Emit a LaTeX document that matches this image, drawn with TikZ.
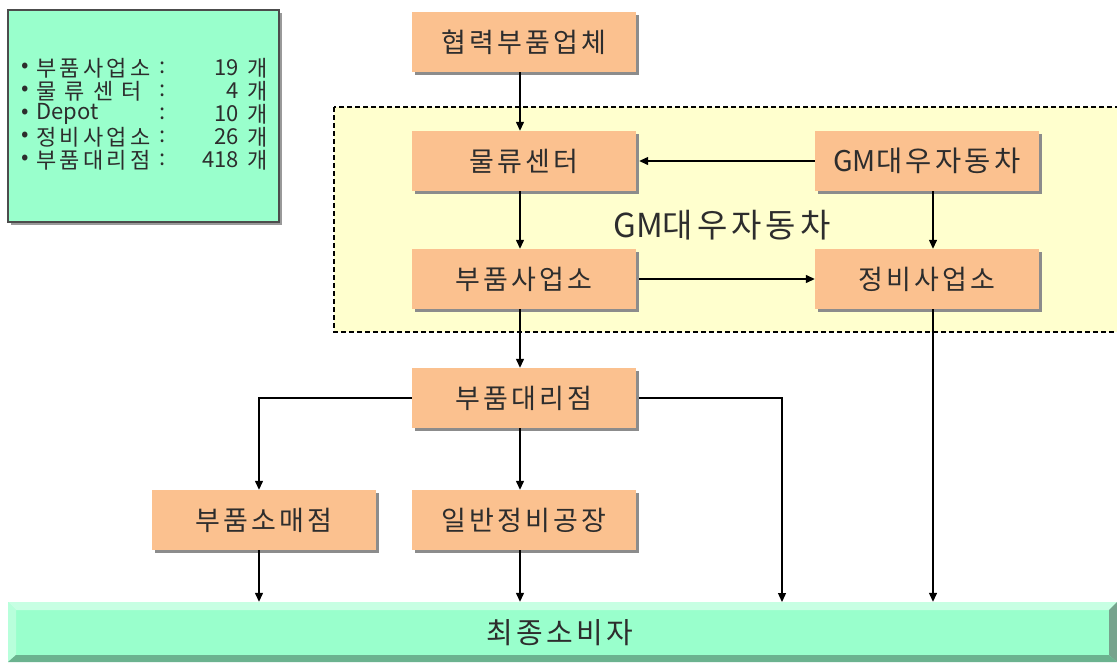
\documentclass[tikz,border=0pt]{standalone}
\usepackage{fontspec}
\setmainfont{Noto Sans CJK KR}
\newfontfamily\krbox[LetterSpace=12]{Noto Sans CJK KR}
\newfontfamily\krleg[LetterSpace=15]{Noto Sans CJK KR}
\newfontfamily\krplain{Noto Sans CJK KR}
\usetikzlibrary{arrows.meta,shadows}
\definecolor{boxor}{RGB}{251,193,143}
\definecolor{regyel}{RGB}{255,255,206}
\definecolor{mint}{RGB}{153,255,204}
\definecolor{txt}{RGB}{45,45,45}
\tikzset{
  pbox/.style={fill=boxor, minimum width=224pt, minimum height=60pt, inner sep=0pt,
    text=txt, font=\krbox\fontsize{27pt}{30pt}\selectfont,
    drop shadow={shadow xshift=3pt, shadow yshift=-3pt, fill=black!45, opacity=1}},
  conn/.style={line width=1.3pt, -{Triangle[length=9pt,width=8pt]}},
  legtxt/.style={text=txt, font=\krleg\fontsize{22pt}{24pt}\selectfont, inner sep=0pt},
  legnum/.style={text=txt, font=\krplain\fontsize{22pt}{24pt}\selectfont, inner sep=0pt}
}
\begin{document}
\begin{tikzpicture}[x=1pt,y=-1pt]
\clip (0,0) rectangle (1117,662);
\fill[white] (0,0) rectangle (1117,662);

% legend box
\fill[black!40] (11,13) rectangle (282,225);
\fill[mint] (8,10) rectangle (279,222);
\draw[black!70, line width=1.5pt] (8,10) rectangle (279,222);
\foreach \y/\t/\n [count=\i] in {68/부품사업소/19,91/물 류 센 터/4,137/정비사업소/26,160/부품대리점/418}{
  \node[legnum] (b\i) at (25,\y) {•};
  \node[legtxt, anchor=west] (l\i) at (36,\y) {\t};
  \node[legnum] (c\i) at (163,\y) {:};
  \node[legnum, anchor=east] (n\i) at (239,\y) {\n};
  \node[legnum, anchor=west] (g\i) at (247,\y) {개};
}
\node[legnum] (b5) at (25,114) {•};
\node[legnum, anchor=west] (l5) at (36,114) {Depot};
\node[legnum] (c5) at (163,114) {:};
\node[legnum, anchor=east] (n5) at (239,114) {10};
\node[legnum, anchor=west] (g5) at (247,114) {개};

% dashed region
\draw[fill=regyel, line width=1.8pt, dash pattern=on 5pt off 3pt] (334,107) rectangle (1130,332);
\node[text=txt, font=\krbox\fontsize{33pt}{36pt}\selectfont, inner sep=0pt] (reg) at (722,225) {{\krplain GM}대우자동차};

% boxes
\node[pbox] (hb) at (524,42) {협력부품업체};
\node[pbox] (mr) at (524,161) {물류센터};
\node[pbox, font=\krbox\fontsize{28.5pt}{30pt}\selectfont] (gm) at (927,161) {{\krplain GM}대우자동차};
\node[pbox] (bs) at (524,279) {부품사업소};
\node[pbox] (jb) at (927,279) {정비사업소};
\node[pbox] (dr) at (524,398) {부품대리점};
\node[pbox] (sm) at (264,520) {부품소매점};
\node[pbox] (ij) at (524,520) {일반정비공장};

% bottom bar
\node[minimum width=1109pt, minimum height=60pt, inner sep=0pt] (bar) at (562.5,632) {};
\fill[mint] (8,602) rectangle (1117,662);
\fill[mint!55!white] (8,602) -- (1117,602) -- (1109,610) -- (16,610) -- cycle;
\fill[mint!70!white] (8,602) -- (16,610) -- (16,655) -- (8,662) -- cycle;
\fill[mint!55!black!80] (1117,602) -- (1109,610) -- (1109,655) -- (1117,662) -- cycle;
\fill[mint!70!black] (8,662) -- (16,655) -- (1109,655) -- (1117,662) -- cycle;
\node[text=txt, font=\krbox\fontsize{29pt}{32pt}\selectfont, inner sep=0pt] (cs) at (560,633) {최종소비자};

% connectors
\coordinate (rr) at (782,602);
\draw[conn] ([xshift=-4pt]hb.south) -- ([xshift=-4pt]mr.north);
\draw[conn] (gm.west) -- ([xshift=3pt]mr.east);
\draw[conn] ([xshift=-4pt]mr.south) -- ([xshift=-4pt]bs.north);
\draw[conn] ([xshift=6pt]gm.south) -- ([xshift=6pt]jb.north);
\draw[conn] ([xshift=3pt]bs.east) -- (jb.west);
\draw[conn] ([xshift=-4pt]bs.south) -- ([xshift=-4pt]dr.north);
\draw[conn] (dr.west) -| ([xshift=-5pt]sm.north);
\draw[conn] ([xshift=3pt]dr.east) -| (rr);
\draw[conn] ([xshift=-4pt]dr.south) -- ([xshift=-4pt]ij.north);
\draw[conn] ([xshift=-5pt]sm.south) -- ([xshift=-5pt]sm.south |- bar.north);
\draw[conn] ([xshift=-4pt]ij.south) -- ([xshift=-4pt]ij.south |- bar.north);
\draw[conn] ([xshift=6pt]jb.south) -- ([xshift=6pt]jb.south |- bar.north);
\end{tikzpicture}
\end{document}
